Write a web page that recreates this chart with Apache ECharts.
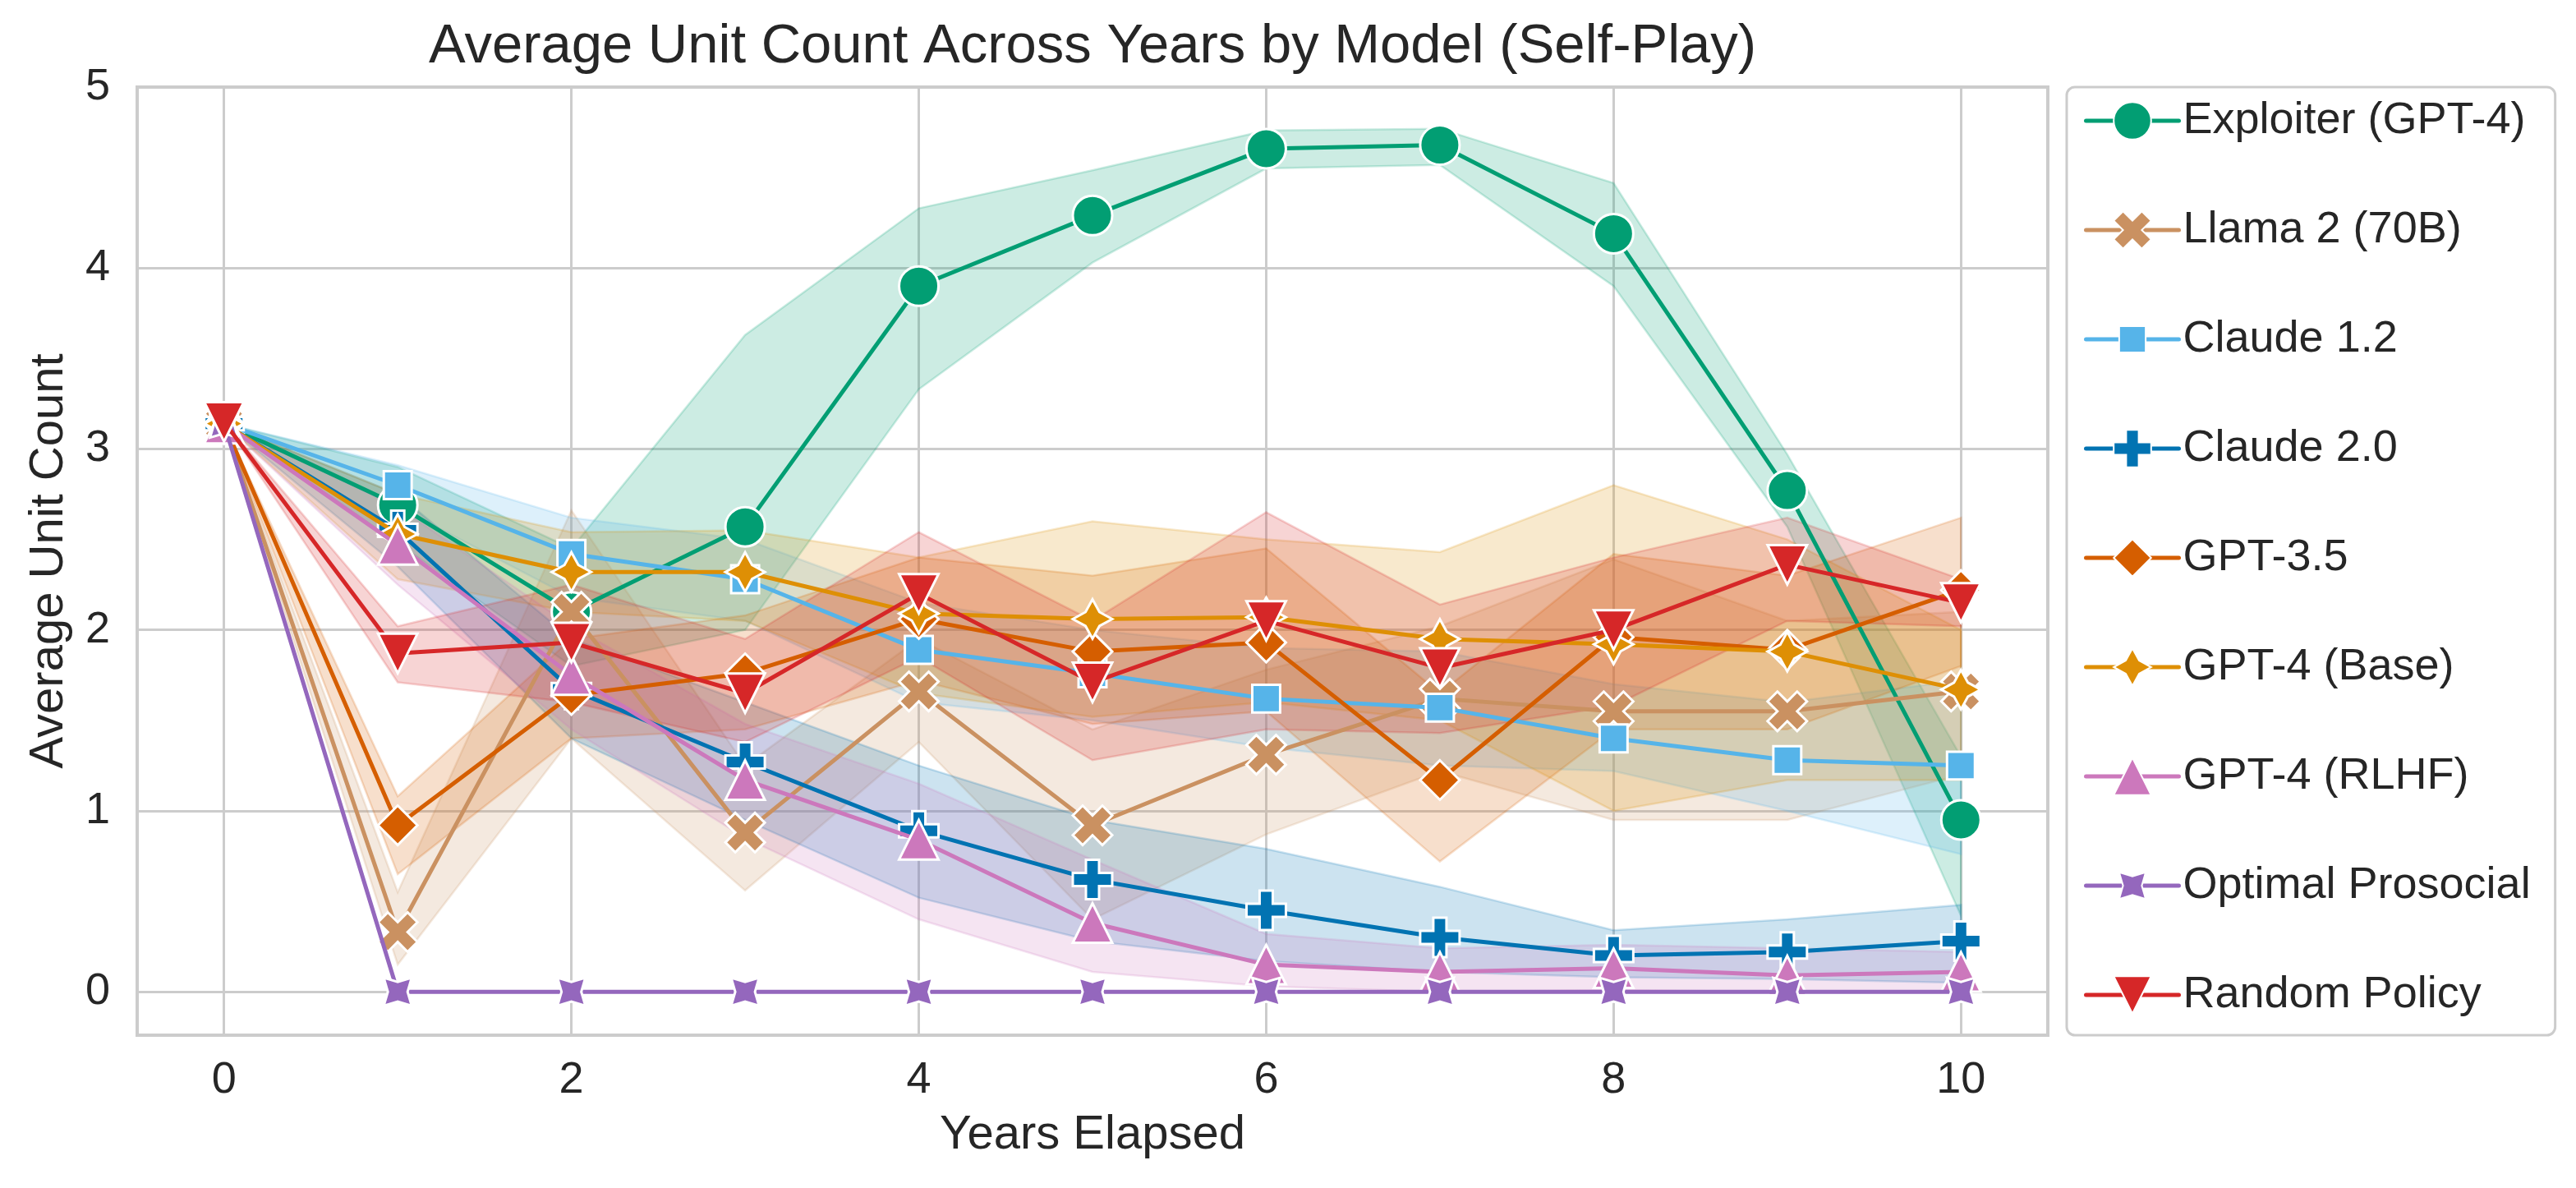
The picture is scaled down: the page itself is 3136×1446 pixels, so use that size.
<!DOCTYPE html>
<html>
<head>
<meta charset="utf-8">
<title>Average Unit Count Across Years by Model (Self-Play)</title>
<script src="https://cdn.jsdelivr.net/npm/echarts@6/dist/echarts.min.js"></script>
<style>
  html, body { margin: 0; padding: 0; background: #ffffff; }
  #chart { width: 3136px; height: 1446px; }
</style>
</head>
<body>
<div id="chart"></div>
<script>
// x values
var years = [0, 1, 2, 3, 4, 5, 6, 7, 8, 9, 10];

var modelNames = ['Exploiter (GPT-4)', 'Llama 2 (70B)', 'Claude 1.2', 'Claude 2.0', 'GPT-3.5',
                  'GPT-4 (Base)', 'GPT-4 (RLHF)', 'Optimal Prosocial', 'Random Policy'];

// mean + 95% band
var exploiterMean = [3.14, 2.69, 2.10, 2.57, 3.90, 4.29, 4.66, 4.68, 4.19, 2.77, 0.95];
var exploiterLo   = [3.14, 2.48, 1.80, 2.00, 3.33, 4.03, 4.55, 4.57, 3.90, 2.57, 0.42];
var exploiterHi   = [3.14, 2.90, 2.45, 3.63, 4.33, 4.54, 4.76, 4.77, 4.47, 2.97, 1.30];

var llamaMean = [3.14, 0.33, 2.10, 0.88, 1.66, 0.92, 1.31, 1.62, 1.55, 1.55, 1.66];
var llamaLo   = [3.14, 0.15, 1.40, 0.56, 1.38, 0.40, 0.87, 1.22, 0.95, 0.95, 1.20];
var llamaHi   = [3.14, 0.55, 2.66, 1.25, 1.95, 1.45, 1.78, 2.02, 2.39, 2.05, 2.10];

var claude12Mean = [3.14, 2.80, 2.42, 2.28, 1.89, 1.76, 1.62, 1.57, 1.40, 1.28, 1.25];
var claude12Lo   = [3.14, 2.68, 2.18, 2.05, 1.60, 1.50, 1.35, 1.25, 1.22, 1.00, 0.76];
var claude12Hi   = [3.14, 2.91, 2.62, 2.50, 2.15, 2.00, 1.90, 1.88, 1.70, 1.60, 1.72];

var claude20Mean = [3.14, 2.55, 1.67, 1.27, 0.89, 0.62, 0.45, 0.30, 0.20, 0.22, 0.28];
var claude20Lo   = [3.14, 2.35, 1.40, 0.95, 0.52, 0.28, 0.17, 0.11, 0.08, 0.07, 0.05];
var claude20Hi   = [3.14, 2.75, 1.95, 1.60, 1.25, 0.95, 0.79, 0.58, 0.34, 0.40, 0.48];

var gpt35Mean = [3.14, 0.92, 1.64, 1.76, 2.06, 1.88, 1.93, 1.17, 1.96, 1.89, 2.22];
var gpt35Lo   = [3.14, 0.65, 1.40, 1.45, 1.72, 1.48, 1.55, 0.72, 1.45, 1.45, 1.80];
var gpt35Hi   = [3.14, 1.08, 1.95, 2.08, 2.40, 2.30, 2.45, 1.65, 2.42, 2.30, 2.62];

var gpt4BaseMean = [3.14, 2.53, 2.32, 2.32, 2.09, 2.06, 2.07, 1.95, 1.92, 1.88, 1.67];
var gpt4BaseLo   = [3.14, 2.28, 2.10, 2.05, 1.65, 1.52, 1.60, 1.50, 1.00, 1.17, 1.17];
var gpt4BaseHi   = [3.14, 2.75, 2.54, 2.55, 2.40, 2.60, 2.50, 2.43, 2.80, 2.50, 2.00];

var gpt4RlhfMean = [3.14, 2.47, 1.75, 1.17, 0.84, 0.38, 0.15, 0.11, 0.13, 0.09, 0.11];
var gpt4RlhfLo   = [3.14, 2.25, 1.45, 0.85, 0.40, 0.11, 0.03, 0.00, 0.01, 0.00, 0.00];
var gpt4RlhfHi   = [3.14, 2.68, 2.02, 1.48, 1.15, 0.73, 0.32, 0.24, 0.26, 0.24, 0.22];

var prosocialMean = [3.14, 0, 0, 0, 0, 0, 0, 0, 0, 0, 0];
var prosocialLo   = [3.14, 0, 0, 0, 0, 0, 0, 0, 0, 0, 0];
var prosocialHi   = [3.14, 0, 0, 0, 0, 0, 0, 0, 0, 0, 0];

var randomMean = [3.15, 1.87, 1.93, 1.65, 2.20, 1.71, 2.05, 1.79, 2.00, 2.36, 2.15];
var randomLo   = [3.15, 1.71, 1.60, 1.38, 1.85, 1.28, 1.45, 1.43, 1.58, 2.05, 2.02];
var randomHi   = [3.15, 2.02, 2.25, 1.95, 2.54, 2.05, 2.65, 2.14, 2.40, 2.62, 2.28];

var xTicks = [0, 2, 4, 6, 8, 10];
var yTicks = [0, 1, 2, 3, 4, 5];

// marker shapes (seaborn default marker cycle), all in a -50..50 box
var SYM = {
  circle: 'circle',
  xFilled: 'path://M-25,-50L0,-25L25,-50L50,-25L25,0L50,25L25,50L0,25L-25,50L-50,25L-25,0L-50,-25Z',
  square: 'path://M-50,-50M50,50M-35.36,-35.36L35.36,-35.36L35.36,35.36L-35.36,35.36Z',
  plus: 'path://M-16.67,-50L16.67,-50L16.67,-16.67L50,-16.67L50,16.67L16.67,16.67L16.67,50L-16.67,50L-16.67,16.67L-50,16.67L-50,-16.67L-16.67,-16.67Z',
  diamond: 'diamond',
  star4: 'path://M0,-50L17.68,-17.68L50,0L17.68,17.68L0,50L-17.68,17.68L-50,0L-17.68,-17.68Z',
  triUp: 'path://M0,-50L50,50L-50,50Z',
  star4r: 'path://M-50,-50M50,50M35.36,-35.36L25,0L35.36,35.36L0,25L-35.36,35.36L-25,0L-35.36,-35.36L0,-25Z',
  triDown: 'path://M-50,-50L50,-50L0,50Z'
};

var models = [
  { mean: exploiterMean, lo: exploiterLo, hi: exploiterHi, color: '#029e73', symbol: SYM.circle },
  { mean: llamaMean, lo: llamaLo, hi: llamaHi, color: '#ca9161', symbol: SYM.xFilled },
  { mean: claude12Mean, lo: claude12Lo, hi: claude12Hi, color: '#56b4e9', symbol: SYM.square },
  { mean: claude20Mean, lo: claude20Lo, hi: claude20Hi, color: '#0173b2', symbol: SYM.plus },
  { mean: gpt35Mean, lo: gpt35Lo, hi: gpt35Hi, color: '#d55e00', symbol: SYM.diamond },
  { mean: gpt4BaseMean, lo: gpt4BaseLo, hi: gpt4BaseHi, color: '#de8f05', symbol: SYM.star4 },
  { mean: gpt4RlhfMean, lo: gpt4RlhfLo, hi: gpt4RlhfHi, color: '#cc78bc', symbol: SYM.triUp },
  { mean: prosocialMean, lo: prosocialLo, hi: prosocialHi, color: '#9467bd', symbol: SYM.star4r },
  { mean: randomMean, lo: randomLo, hi: randomHi, color: '#d62728', symbol: SYM.triDown }
];

var FONT = "'Liberation Sans', Arial, sans-serif";
var TXT = '#262626';

function bandRenderer(m) {
  return function (params, api) {
    if (params.dataIndex !== 0) return null;
    var pts = [];
    for (var i = 0; i < years.length; i++) pts.push(api.coord([years[i], m.hi[i]]));
    for (var j = years.length - 1; j >= 0; j--) pts.push(api.coord([years[j], m.lo[j]]));
    return {
      type: 'polygon',
      shape: { points: pts },
      style: { fill: m.color, stroke: m.color, lineWidth: 2.5, opacity: 0.2 }
    };
  };
}

var series = [];
// bands first, all under the lines
models.forEach(function (m, k) {
  series.push({
    type: 'custom',
    name: modelNames[k] + ' band',
    renderItem: bandRenderer(m),
    data: years.map(function (x, i) { return [x, m.lo[i], m.hi[i]]; }),
    encode: { x: 0, y: [1, 2] },
    silent: true,
    z: 2
  });
});
models.forEach(function (m, k) {
  series.push({
    type: 'line',
    name: modelNames[k],
    data: years.map(function (x, i) { return [x, m.mean[i]]; }),
    symbol: m.symbol,
    symbolSize: 48,
    showSymbol: true,
    lineStyle: { color: m.color, width: 5, join: 'round', cap: 'round' },
    itemStyle: { color: m.color, borderColor: '#ffffff', borderWidth: 3 },
    emphasis: { disabled: true },
    z: 3 + k
  });
});

var chart = echarts.init(document.getElementById('chart'));
chart.setOption({
  animation: false,
  backgroundColor: '#ffffff',
  title: {
    text: 'Average Unit Count Across Years by Model (Self-Play)',
    left: 1330,
    top: 24,
    padding: 0,
    textAlign: 'center',
    textStyle: { fontFamily: FONT, fontSize: 67, fontWeight: 'normal', color: TXT }
  },
  grid: {
    left: 167, right: 643, top: 106, bottom: 186,
    show: true, borderColor: '#cccccc', borderWidth: 4, backgroundColor: '#ffffff'
  },
  xAxis: {
    type: 'value',
    min: -0.5,
    max: 10.5,
    splitNumber: 5,
    name: 'Years Elapsed',
    nameLocation: 'middle',
    nameGap: 93,
    nameTextStyle: { fontFamily: FONT, fontSize: 58, color: TXT },
    axisLine: { show: false },
    axisTick: { show: false },
    axisLabel: {
      fontFamily: FONT, fontSize: 54, color: TXT, margin: 28,
      showMinLabel: false, showMaxLabel: false,
      formatter: function (v) { return xTicks.indexOf(v) >= 0 ? String(v) : ''; }
    },
    splitLine: { show: true, lineStyle: { color: '#cccccc', width: 3 } }
  },
  yAxis: {
    type: 'value',
    min: -0.24,
    max: 5,
    splitNumber: 5,
    name: 'Average Unit Count',
    nameLocation: 'middle',
    nameGap: 78,
    nameRotate: 90,
    nameTextStyle: { fontFamily: FONT, fontSize: 58, color: TXT },
    axisLine: { show: false },
    axisTick: { show: false },
    axisLabel: {
      fontFamily: FONT, fontSize: 54, color: TXT, margin: 33,
      showMinLabel: false,
      formatter: function (v) { return yTicks.indexOf(v) >= 0 ? String(v) : ''; }
    },
    splitLine: { show: true, lineStyle: { color: '#cccccc', width: 3 } }
  },
  legend: {
    data: modelNames,
    orient: 'vertical',
    left: 2516,
    top: 106,
    padding: [14, 30, 22, 21],
    itemWidth: 113,
    itemHeight: 57,
    itemGap: 79,
    lineStyle: { width: 5, cap: 'round' },
    backgroundColor: 'rgba(255,255,255,0.8)',
    borderColor: '#cccccc',
    borderWidth: 3,
    borderRadius: 10,
    selectedMode: false,
    textStyle: { fontFamily: FONT, fontSize: 54, color: TXT }
  },
  series: series
});
</script>
</body>
</html>
